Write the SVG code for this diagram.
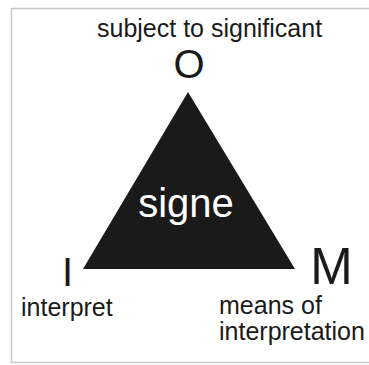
<svg xmlns="http://www.w3.org/2000/svg" width="369" height="365" viewBox="0 0 369 365">
<style>
text{font-family:"Liberation Sans",Arial,sans-serif;fill:#1a1a1a}
.lbl{font-size:25px}
.big{font-size:40px}
</style>
<rect x="0" y="0" width="369" height="365" fill="#ffffff"/>
<rect x="11.5" y="8.5" width="362" height="354" fill="none" stroke="#c8c8c8" stroke-width="1.5"/>
<g id="connectors"></g>
<g id="signe">
<polygon points="188,92 83,269 295,269" fill="#1a1a1a"/>
<text x="186" y="217" text-anchor="middle" style="font-size:40px;fill:#ffffff">signe</text>
</g>
<g id="node-O">
<text x="189" y="78" text-anchor="middle" class="big">O</text>
<text x="97" y="36.5" class="lbl">subject to significant</text>
</g>
<g id="node-I">
<text x="67.5" y="285.5" text-anchor="middle" style="font-size:40px">I</text>
<text x="21" y="316" class="lbl">interpret</text>
</g>
<g id="node-M">
<text x="331.5" y="283.5" text-anchor="middle" style="font-size:51px">M</text>
<text x="219" y="314" class="lbl">means of</text>
<text x="219" y="340" class="lbl">interpretation</text>
</g>
</svg>
